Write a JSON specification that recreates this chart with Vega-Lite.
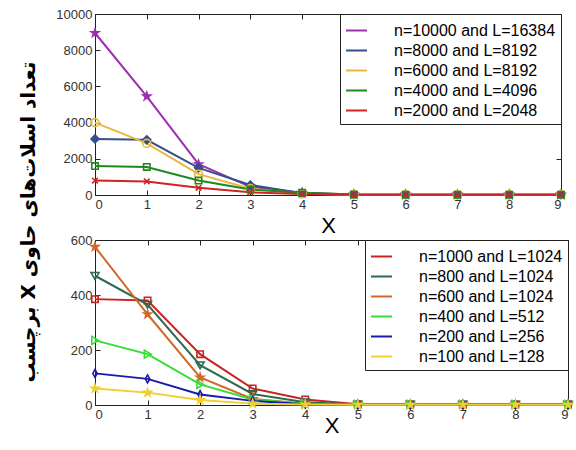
{
  "$schema": "https://vega.github.io/schema/vega-lite/v6.json",
  "background": "white",
  "padding": {"left": 19, "top": 7, "right": 2, "bottom": 0},
  "config": {
    "view": {"stroke": "#222", "strokeWidth": 1},
    "axis": {"labelFont": "Liberation Sans", "labelFontSize": 13, "labelColor": "#333", "domain": false, "tickColor": "#222", "tickSize": -5, "labelPadding": 8, "grid": false, "titleFont": "Liberation Sans", "titleFontWeight": "normal", "titleColor": "black", "format": "d"},
    "point": {"size": 64, "strokeWidth": 1.6, "opacity": 1}
  },
  "title": {"text": "\u202bتعداد اسلات‌های حاوی X برچسب\u202c", "orient": "left", "anchor": "middle", "font": "DejaVu Sans", "fontSize": 20, "fontWeight": "bold", "color": "black", "offset": 16},
  "spacing": -4,
  "datasets": {
    "top": [
      {"s": "n=10000 and L=16384", "x": 0, "y": 8950}, {"s": "n=10000 and L=16384", "x": 1, "y": 5450}, {"s": "n=10000 and L=16384", "x": 2, "y": 1700}, {"s": "n=10000 and L=16384", "x": 3, "y": 450}, {"s": "n=10000 and L=16384", "x": 4, "y": 120}, {"s": "n=10000 and L=16384", "x": 5, "y": 30}, {"s": "n=10000 and L=16384", "x": 6, "y": 20}, {"s": "n=10000 and L=16384", "x": 7, "y": 20}, {"s": "n=10000 and L=16384", "x": 8, "y": 20}, {"s": "n=10000 and L=16384", "x": 9, "y": 20},
      {"s": "n=8000 and L=8192", "x": 0, "y": 3100}, {"s": "n=8000 and L=8192", "x": 1, "y": 3050}, {"s": "n=8000 and L=8192", "x": 2, "y": 1500}, {"s": "n=8000 and L=8192", "x": 3, "y": 550}, {"s": "n=8000 and L=8192", "x": 4, "y": 100}, {"s": "n=8000 and L=8192", "x": 5, "y": 25}, {"s": "n=8000 and L=8192", "x": 6, "y": 20}, {"s": "n=8000 and L=8192", "x": 7, "y": 20}, {"s": "n=8000 and L=8192", "x": 8, "y": 20}, {"s": "n=8000 and L=8192", "x": 9, "y": 20},
      {"s": "n=6000 and L=8192", "x": 0, "y": 4000}, {"s": "n=6000 and L=8192", "x": 1, "y": 2850}, {"s": "n=6000 and L=8192", "x": 2, "y": 1150}, {"s": "n=6000 and L=8192", "x": 3, "y": 350}, {"s": "n=6000 and L=8192", "x": 4, "y": 70}, {"s": "n=6000 and L=8192", "x": 5, "y": 20}, {"s": "n=6000 and L=8192", "x": 6, "y": 20}, {"s": "n=6000 and L=8192", "x": 7, "y": 20}, {"s": "n=6000 and L=8192", "x": 8, "y": 20}, {"s": "n=6000 and L=8192", "x": 9, "y": 20},
      {"s": "n=4000 and L=4096", "x": 0, "y": 1600}, {"s": "n=4000 and L=4096", "x": 1, "y": 1550}, {"s": "n=4000 and L=4096", "x": 2, "y": 800}, {"s": "n=4000 and L=4096", "x": 3, "y": 300}, {"s": "n=4000 and L=4096", "x": 4, "y": 130}, {"s": "n=4000 and L=4096", "x": 5, "y": 30}, {"s": "n=4000 and L=4096", "x": 6, "y": 20}, {"s": "n=4000 and L=4096", "x": 7, "y": 20}, {"s": "n=4000 and L=4096", "x": 8, "y": 20}, {"s": "n=4000 and L=4096", "x": 9, "y": 20},
      {"s": "n=2000 and L=2048", "x": 0, "y": 800}, {"s": "n=2000 and L=2048", "x": 1, "y": 750}, {"s": "n=2000 and L=2048", "x": 2, "y": 400}, {"s": "n=2000 and L=2048", "x": 3, "y": 150}, {"s": "n=2000 and L=2048", "x": 4, "y": 50}, {"s": "n=2000 and L=2048", "x": 5, "y": 15}, {"s": "n=2000 and L=2048", "x": 6, "y": 10}, {"s": "n=2000 and L=2048", "x": 7, "y": 10}, {"s": "n=2000 and L=2048", "x": 8, "y": 10}, {"s": "n=2000 and L=2048", "x": 9, "y": 10}
    ],
    "bot": [
      {"s": "n=1000 and L=1024", "x": 0, "y": 385}, {"s": "n=1000 and L=1024", "x": 1, "y": 380}, {"s": "n=1000 and L=1024", "x": 2, "y": 185}, {"s": "n=1000 and L=1024", "x": 3, "y": 60}, {"s": "n=1000 and L=1024", "x": 4, "y": 20}, {"s": "n=1000 and L=1024", "x": 5, "y": 3}, {"s": "n=1000 and L=1024", "x": 6, "y": 2}, {"s": "n=1000 and L=1024", "x": 7, "y": 2}, {"s": "n=1000 and L=1024", "x": 8, "y": 2}, {"s": "n=1000 and L=1024", "x": 9, "y": 2},
      {"s": "n=800 and L=1024", "x": 0, "y": 470}, {"s": "n=800 and L=1024", "x": 1, "y": 365}, {"s": "n=800 and L=1024", "x": 2, "y": 145}, {"s": "n=800 and L=1024", "x": 3, "y": 40}, {"s": "n=800 and L=1024", "x": 4, "y": 10}, {"s": "n=800 and L=1024", "x": 5, "y": 2}, {"s": "n=800 and L=1024", "x": 6, "y": 2}, {"s": "n=800 and L=1024", "x": 7, "y": 2}, {"s": "n=800 and L=1024", "x": 8, "y": 2}, {"s": "n=800 and L=1024", "x": 9, "y": 2},
      {"s": "n=600 and L=1024", "x": 0, "y": 575}, {"s": "n=600 and L=1024", "x": 1, "y": 330}, {"s": "n=600 and L=1024", "x": 2, "y": 100}, {"s": "n=600 and L=1024", "x": 3, "y": 22}, {"s": "n=600 and L=1024", "x": 4, "y": 5}, {"s": "n=600 and L=1024", "x": 5, "y": 2}, {"s": "n=600 and L=1024", "x": 6, "y": 2}, {"s": "n=600 and L=1024", "x": 7, "y": 2}, {"s": "n=600 and L=1024", "x": 8, "y": 2}, {"s": "n=600 and L=1024", "x": 9, "y": 2},
      {"s": "n=400 and L=512", "x": 0, "y": 235}, {"s": "n=400 and L=512", "x": 1, "y": 185}, {"s": "n=400 and L=512", "x": 2, "y": 75}, {"s": "n=400 and L=512", "x": 3, "y": 20}, {"s": "n=400 and L=512", "x": 4, "y": 5}, {"s": "n=400 and L=512", "x": 5, "y": 2}, {"s": "n=400 and L=512", "x": 6, "y": 2}, {"s": "n=400 and L=512", "x": 7, "y": 2}, {"s": "n=400 and L=512", "x": 8, "y": 2}, {"s": "n=400 and L=512", "x": 9, "y": 2},
      {"s": "n=200 and L=256", "x": 0, "y": 115}, {"s": "n=200 and L=256", "x": 1, "y": 95}, {"s": "n=200 and L=256", "x": 2, "y": 38}, {"s": "n=200 and L=256", "x": 3, "y": 15}, {"s": "n=200 and L=256", "x": 4, "y": 3}, {"s": "n=200 and L=256", "x": 5, "y": 1}, {"s": "n=200 and L=256", "x": 6, "y": 1}, {"s": "n=200 and L=256", "x": 7, "y": 1}, {"s": "n=200 and L=256", "x": 8, "y": 1}, {"s": "n=200 and L=256", "x": 9, "y": 1},
      {"s": "n=100 and L=128", "x": 0, "y": 60}, {"s": "n=100 and L=128", "x": 1, "y": 45}, {"s": "n=100 and L=128", "x": 2, "y": 18}, {"s": "n=100 and L=128", "x": 3, "y": 5}, {"s": "n=100 and L=128", "x": 4, "y": 2}, {"s": "n=100 and L=128", "x": 5, "y": 1}, {"s": "n=100 and L=128", "x": 6, "y": 1}, {"s": "n=100 and L=128", "x": 7, "y": 1}, {"s": "n=100 and L=128", "x": 8, "y": 1}, {"s": "n=100 and L=128", "x": 9, "y": 1}
    ]
  },
  "vconcat": [
    {
      "width": 466, "height": 181,
      "data": {"name": "top"},
      "resolve": {"axis": {"x": "independent", "y": "independent"}},
      "layer": [
        {
          "mark": {"type": "line", "strokeWidth": 2},
          "encoding": {
            "x": {"field": "x", "type": "quantitative", "scale": {"domain": [0, 9], "nice": false}, "axis": {"values": [0,1,2,3,4,5,6,7,8,9], "title": "X", "titleFontSize": 22, "titleY": 20, "titleBaseline": "top"}},
            "y": {"field": "y", "type": "quantitative", "scale": {"domain": [0, 10000], "nice": false}, "axis": {"values": [0,2000,4000,6000,8000,10000], "title": null}},
            "color": {"field": "s", "type": "nominal", "sort": null,
              "scale": {"domain": ["n=10000 and L=16384", "n=8000 and L=8192", "n=6000 and L=8192", "n=4000 and L=4096", "n=2000 and L=2048"], "range": ["#9c2fae", "#34508a", "#e9b83c", "#1e8a1e", "#d02424"]},
              "legend": {"orient": "top-right", "offset": 0, "title": null, "strokeColor": "#222", "fillColor": "white", "padding": 5, "labelFont": "Liberation Sans", "labelFontSize": 16, "labelColor": "black", "symbolType": "stroke", "symbolSize": 441, "symbolStrokeWidth": 2, "labelOffset": 26, "rowPadding": 0, "labelLimit": 300}
            }
          }
        },
        {
          "encoding": {
            "x": {"field": "x", "type": "quantitative", "axis": {"values": [0,1,2,3,4,5,6,7,8,9], "labels": false, "title": null}},
            "y": {"field": "y", "type": "quantitative", "axis": {"values": [0,2000,4000,6000,8000,10000], "labels": false, "title": null}}
          },
          "layer": [
            {"transform": [{"filter": "datum.s === 'n=10000 and L=16384'"}], "mark": {"type": "point", "shape": "M0,-1L0.225,-0.31L0.951,-0.309L0.363,0.118L0.588,0.809L0,0.382L-0.588,0.809L-0.363,0.118L-0.951,-0.309L-0.225,-0.31Z", "stroke": "#9c2fae", "fill": "#9c2fae"}},
            {"transform": [{"filter": "datum.s === 'n=8000 and L=8192'"}], "mark": {"type": "point", "shape": "M0,-1L1,0L0,1L-1,0Z", "stroke": "#34508a", "fill": "#34508a"}},
            {"transform": [{"filter": "datum.s === 'n=6000 and L=8192'"}], "mark": {"type": "point", "shape": "circle", "stroke": "#e9b83c", "fill": "transparent"}},
            {"transform": [{"filter": "datum.s === 'n=4000 and L=4096'"}], "mark": {"type": "point", "shape": "M-0.8,-0.8H0.8V0.8H-0.8Z", "stroke": "#1e8a1e", "fill": "transparent"}},
            {"transform": [{"filter": "datum.s === 'n=2000 and L=2048'"}], "mark": {"type": "point", "shape": "M-0.7,-0.7L0.7,0.7M-0.7,0.7L0.7,-0.7", "stroke": "#d02424", "fill": "transparent"}}
          ]
        }
      ]
    },
    {
      "width": 473, "height": 165,
      "data": {"name": "bot"},
      "resolve": {"axis": {"x": "independent", "y": "independent"}},
      "layer": [
        {
          "mark": {"type": "line", "strokeWidth": 2},
          "encoding": {
            "x": {"field": "x", "type": "quantitative", "scale": {"domain": [0, 9], "nice": false}, "axis": {"values": [0,1,2,3,4,5,6,7,8,9], "title": "X", "titleFontSize": 22, "titleY": 10, "titleBaseline": "top"}},
            "y": {"field": "y", "type": "quantitative", "scale": {"domain": [0, 600], "nice": false}, "axis": {"values": [0,200,400,600], "title": null}},
            "color": {"field": "s", "type": "nominal", "sort": null,
              "scale": {"domain": ["n=1000 and L=1024", "n=800 and L=1024", "n=600 and L=1024", "n=400 and L=512", "n=200 and L=256", "n=100 and L=128"], "range": ["#cc2222", "#2e6a4e", "#d2692a", "#35dd35", "#1a1aaa", "#f0d030"]},
              "legend": {"orient": "top-right", "offset": 0, "title": null, "strokeColor": "#222", "fillColor": "white", "padding": 5, "labelFont": "Liberation Sans", "labelFontSize": 16, "labelColor": "black", "symbolType": "stroke", "symbolSize": 441, "symbolStrokeWidth": 2, "labelOffset": 26, "rowPadding": 0, "labelLimit": 300}
            }
          }
        },
        {
          "encoding": {
            "x": {"field": "x", "type": "quantitative", "axis": {"values": [0,1,2,3,4,5,6,7,8,9], "labels": false, "title": null}},
            "y": {"field": "y", "type": "quantitative", "axis": {"values": [0,200,400,600], "labels": false, "title": null}}
          },
          "layer": [
            {"transform": [{"filter": "datum.s === 'n=1000 and L=1024'"}], "mark": {"type": "point", "shape": "M-0.8,-0.8H0.8V0.8H-0.8Z", "stroke": "#cc2222", "fill": "transparent"}},
            {"transform": [{"filter": "datum.s === 'n=800 and L=1024'"}], "mark": {"type": "point", "shape": "M-1,-0.8H1L0,0.9Z", "stroke": "#2e6a4e", "fill": "transparent"}},
            {"transform": [{"filter": "datum.s === 'n=600 and L=1024'"}], "mark": {"type": "point", "shape": "M0,-1L0.225,-0.31L0.951,-0.309L0.363,0.118L0.588,0.809L0,0.382L-0.588,0.809L-0.363,0.118L-0.951,-0.309L-0.225,-0.31Z", "stroke": "#d2692a", "fill": "#d2692a"}},
            {"transform": [{"filter": "datum.s === 'n=400 and L=512'"}], "mark": {"type": "point", "shape": "M-0.8,-1L0.9,0L-0.8,1Z", "stroke": "#35dd35", "fill": "transparent"}},
            {"transform": [{"filter": "datum.s === 'n=200 and L=256'"}], "mark": {"type": "point", "shape": "M0,-1L0.55,0L0,1L-0.55,0Z", "stroke": "#1a1aaa", "fill": "transparent"}},
            {"transform": [{"filter": "datum.s === 'n=100 and L=128'"}], "mark": {"type": "point", "shape": "M0,-1L0.225,-0.31L0.951,-0.309L0.363,0.118L0.588,0.809L0,0.382L-0.588,0.809L-0.363,0.118L-0.951,-0.309L-0.225,-0.31Z", "stroke": "#f0d030", "fill": "#f0d030"}}
          ]
        }
      ]
    }
  ],
  "resolve": {"scale": {"color": "independent"}, "legend": {"color": "independent"}}
}
